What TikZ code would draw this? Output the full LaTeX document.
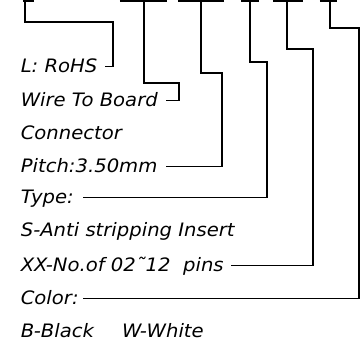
\documentclass[tikz,border=0pt]{standalone}
\usepackage{fontspec}
\newfontfamily\isofont{DejaVu Sans}[FakeStretch=1.06]
\begin{document}
\begin{tikzpicture}[x=1pt,y=1pt, line width=1.6pt, line join=miter,
  lab/.style={anchor=base west, inner sep=0pt, font=\isofont\itshape\fontsize{18.5}{22}\selectfont},
  barline/.style={line width=1.6pt}]
\useasboundingbox (0,0) rectangle (360,350);
% top bars
\coordinate (b1) at (25,349);
\coordinate (b2) at (144,349);
\coordinate (b3) at (201,349);
\coordinate (b4) at (250,349);
\coordinate (b5) at (287,349);
\coordinate (b6) at (330,349);
\draw[barline] (23,349) -- (34,349);
\draw[barline] (120,349) -- (167,349);
\draw[barline] (178,349) -- (224,349);
\draw[barline] (241,349) -- (259,349);
\draw[barline] (273,349) -- (303,349);
\draw[barline] (320,349) -- (337,349);
% labels
\node[lab] (l1) at (20,277) {L: RoHS};
\node[lab] (l2) at (20,243) {Wire To Board};
\node[lab] (l3) at (20,210) {Connector};
\node[lab] (l4) at (20,177) {Pitch:3.50mm};
\node[lab] (l5) at (20,146) {Type:};
\node[lab] (l6) at (20,113) {S-Anti stripping Insert};
\node[lab] (l7) at (20,78) {XX-No.of 02˜12\ \ pins};
\node[lab] (l8) at (20,45) {Color:};
\node[lab] (l9) at (20,12) {B-Black\hspace{28pt}W-White};
% leaders
\draw (b1) |- (113,328) |- ([shift={(7,6.5)}]l1.base east);
\draw (b2) |- (179,267) |- ([shift={(7,6.5)}]l2.base east);
\draw (b3) |- (222,277) |- ([shift={(8,6.5)}]l4.base east);
\draw (b4) |- (267,288) |- ([shift={(8,6.5)}]l5.base east);
\draw (b5) |- (313,301) |- ([shift={(7,6.5)}]l7.base east);
\draw (b6) |- (359,322) |- ([shift={(4,6.5)}]l8.base east);
\end{tikzpicture}
\end{document}
